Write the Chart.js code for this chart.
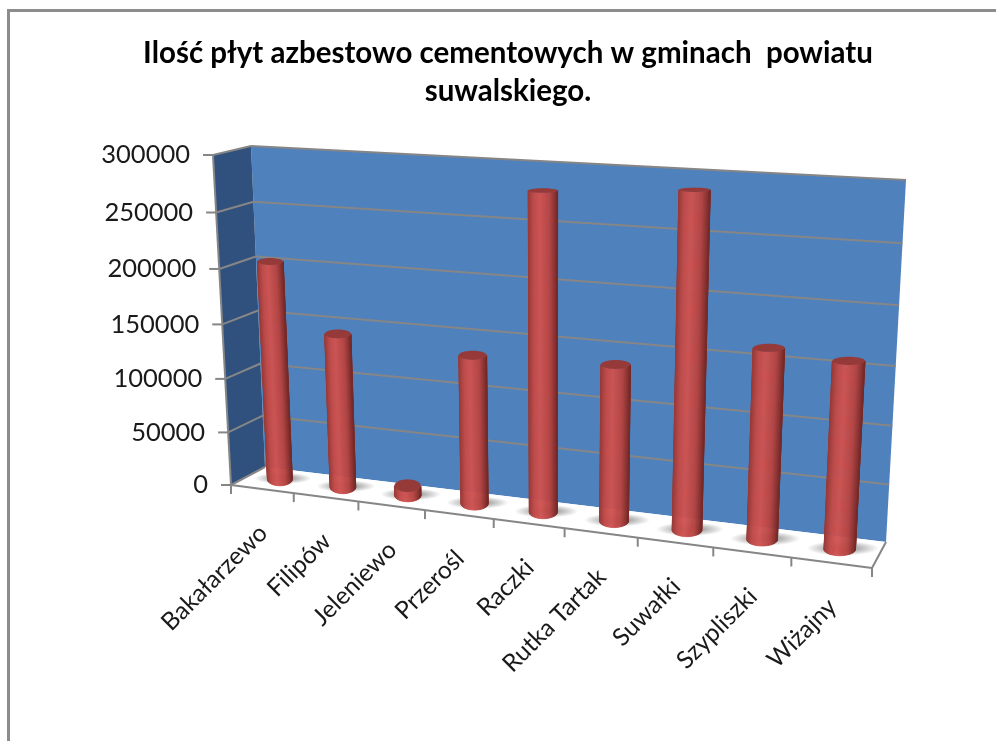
<!DOCTYPE html>
<html>
<head>
<meta charset="utf-8">
<title>Ilość płyt azbestowo cementowych</title>
<script src="https://cdn.jsdelivr.net/npm/chart.js@4"></script>
<style>
  html, body { margin: 0; padding: 0; background: #fff; }
  canvas { display: block; }
</style>
</head>
<body>
<canvas id="myChart" width="996" height="741"></canvas>
<script>
const categories = ["Bakałarzewo", "Filipów", "Jeleniewo", "Przerośl", "Raczki", "Rutka Tartak", "Suwałki", "Szypliszki", "Wiżajny"];
const plyty = [203000, 142500, 9000, 134500, 280000, 138000, 287500, 163500, 158500];
const yTicks = [0, 50000, 100000, 150000, 200000, 250000, 300000];
const titleLines = ["Ilość płyt azbestowo cementowych w gminach  powiatu", "suwalskiego."];

// corners of the 3d box on screen: bottom left, bottom right, top right, top left
const frontQuad = [[231, 485], [872, 568], [892, 190], [213, 155]];
const backQuad = [[265, 467], [886, 542], [906, 180], [251, 146]];
const barDepth = 0.53;

function squareToQuad(q) {
  const [x0, y0] = q[0], [x1, y1] = q[1], [x2, y2] = q[2], [x3, y3] = q[3];
  const dx1 = x1 - x2, dx2 = x3 - x2, sx = x0 - x1 + x2 - x3;
  const dy1 = y1 - y2, dy2 = y3 - y2, sy = y0 - y1 + y2 - y3;
  const den = dx1 * dy2 - dx2 * dy1;
  const g = (sx * dy2 - dx2 * sy) / den;
  const h = (dx1 * sy - sx * dy1) / den;
  return (u, v) => {
    const w = g * u + h * v + 1;
    return [
      ((x1 - x0 + g * x1) * u + (x3 - x0 + h * x3) * v + x0) / w,
      ((y1 - y0 + g * y1) * u + (y3 - y0 + h * y3) * v + y0) / w,
    ];
  };
}
const frontMap = squareToQuad(frontQuad);
const backMap = squareToQuad(backQuad);

// u along categories, v up the value axis, d from front (0) to back (1)
function project(u, v, d) {
  const f = frontMap(u, v), b = backMap(u, v);
  return [f[0] + (b[0] - f[0]) * d, f[1] + (b[1] - f[1]) * d];
}

function polygon(ctx, pts) {
  ctx.beginPath();
  pts.forEach((p, i) => (i ? ctx.lineTo(p[0], p[1]) : ctx.moveTo(p[0], p[1])));
  ctx.closePath();
}

function line(ctx, a, b) {
  ctx.beginPath();
  ctx.moveTo(a[0], a[1]);
  ctx.lineTo(b[0], b[1]);
  ctx.stroke();
}

function mix(a, b, t) {
  return a.map((c, i) => Math.round(c + (b[i] - c) * t));
}

// colour of the cylinder wall, s goes from left edge to right edge
function wallColor(s) {
  const stops = [[0, [150, 58, 56]], [0.2, [194, 76, 74]], [0.42, [207, 84, 82]], [0.75, [180, 68, 66]], [1, [118, 42, 40]]];
  for (let i = 1; i < stops.length; i++) {
    if (s <= stops[i][0]) {
      const c = mix(stops[i - 1][1], stops[i][1], (s - stops[i - 1][0]) / (stops[i][0] - stops[i - 1][0]));
      return `rgb(${c[0]},${c[1]},${c[2]})`;
    }
  }
  return "rgb(118,42,40)";
}

const box3d = {
  id: "box3d",
  beforeDraw(chart) {
    const ctx = chart.ctx;
    ctx.save();
    ctx.strokeStyle = "#8c8c8c";
    ctx.lineWidth = 3;
    ctx.beginPath();
    ctx.moveTo(8.5, 741);
    ctx.lineTo(8.5, 10.5);
    ctx.lineTo(996, 10.5);
    ctx.stroke();
    ctx.restore();
  },
  beforeDatasetsDraw(chart) {
    const ctx = chart.ctx;
    const xs = chart.scales.x, ys = chart.scales.y;
    const area = chart.chartArea;
    const toU = (px) => (px - area.left) / (area.right - area.left);
    const toV = (py) => (area.bottom - py) / (area.bottom - area.top);
    const vOf = (val) => toV(ys.getPixelForValue(val));
    const grey = "#868686";

    ctx.save();
    // back wall, side wall, floor
    polygon(ctx, backQuad);
    ctx.fillStyle = "#4f81bd";
    ctx.fill();
    polygon(ctx, [frontQuad[0], frontQuad[3], backQuad[3], backQuad[0]]);
    ctx.fillStyle = "#30517d";
    ctx.fill();
    polygon(ctx, [frontQuad[0], frontQuad[1], backQuad[1], backQuad[0]]);
    ctx.fillStyle = "#ffffff";
    ctx.fill();

    // gridlines and value ticks
    ctx.strokeStyle = grey;
    ctx.lineWidth = 2;
    ctx.font = "25.5px Lato";
    ctx.fillStyle = "#1a1a1a";
    ctx.textAlign = "right";
    ctx.textBaseline = "middle";
    yTicks.forEach((val) => {
      const v = vOf(val);
      const a = project(0, v, 0), b = project(0, v, 1), c = project(1, v, 1);
      if (val > 0) {
        line(ctx, a, b);
        line(ctx, b, c);
      }
      line(ctx, [a[0] - 10, a[1]], a);
      ctx.fillText(String(val), a[0] - 23, a[1]);
    });
    line(ctx, project(0, 0, 0), project(0, 1, 0));

    // floor edges
    line(ctx, frontQuad[0], backQuad[0]);
    line(ctx, frontQuad[1], backQuad[1]);
    line(ctx, frontQuad[0], frontQuad[1]);

    // category ticks and labels
    const n = categories.length;
    const half = (xs.getPixelForValue(1) - xs.getPixelForValue(0)) / 2;
    for (let i = 0; i <= n; i++) {
      const px = i < n ? xs.getPixelForValue(i) - half : xs.getPixelForValue(n - 1) + half;
      const p = project(toU(px), 0, 0);
      line(ctx, p, [p[0], p[1] + 9]);
    }
    ctx.font = "24.5px Lato";
    categories.forEach((name, i) => {
      const p = project(toU(xs.getPixelForValue(i)), 0, 0);
      ctx.save();
      ctx.translate(p[0] + 1, p[1] + 40);
      ctx.rotate(-Math.PI / 4);
      ctx.textAlign = "right";
      ctx.fillText(name, 0, 0);
      ctx.restore();
    });

    // cylinders, taken from the bar elements of the chart
    const steps = 48;
    const meta = chart.getDatasetMeta(0);
    meta.data.forEach((bar) => {
      const uc = toU(bar.x);
      const ru = (bar.width / 2) / (area.right - area.left);
      const vTop = toV(bar.y), vBase = toV(bar.base);
      // flat ellipse on screen around the bar axis, flatter the higher it sits
      const ring = (v, t) => {
        const c = project(uc, v, barDepth);
        const rx = (project(uc + ru, v, barDepth)[0] - project(uc - ru, v, barDepth)[0]) / 2;
        const ry = 6.5 - 4.5 * v;
        return [c[0] + rx * Math.cos(t), c[1] + ry * Math.sin(t)];
      };

      // floor shadow
      const c = project(uc, vBase, barDepth);
      const r = ring(vBase, 0)[0] - c[0];
      ctx.save();
      polygon(ctx, [frontQuad[0], frontQuad[1], backQuad[1], backQuad[0]]);
      ctx.clip();
      ctx.translate(c[0] + 3, c[1] - 1);
      ctx.scale(1, 0.2);
      const g = ctx.createRadialGradient(0, 0, r * 0.8, 0, 0, r * 2.3);
      g.addColorStop(0, "rgba(80,80,80,0.5)");
      g.addColorStop(1, "rgba(80,80,80,0)");
      ctx.fillStyle = g;
      ctx.beginPath();
      ctx.arc(0, 0, r * 2.3, 0, Math.PI * 2);
      ctx.fill();
      ctx.restore();

      // wall, one slice per step from left to right along the front
      for (let i = 0; i < steps; i++) {
        const t0 = Math.PI - (Math.PI * i) / steps;
        const t1 = Math.PI - (Math.PI * (i + 1)) / steps;
        const col = wallColor((Math.cos((t0 + t1) / 2) + 1) / 2);
        polygon(ctx, [ring(vBase, t0), ring(vBase, t1), ring(vTop, t1), ring(vTop, t0)]);
        ctx.fillStyle = col;
        ctx.strokeStyle = col;
        ctx.lineWidth = 0.6;
        ctx.fill();
        ctx.stroke();
      }
      // top cap
      const cap = [];
      for (let i = 0; i < 40; i++) cap.push(ring(vTop, (i * Math.PI) / 20));
      polygon(ctx, cap);
      ctx.fillStyle = "#953a39";
      ctx.fill();
    });
    ctx.restore();
  },
};

new Chart(document.getElementById("myChart"), {
  type: "bar",
  data: {
    labels: categories,
    datasets: [{ label: "Ilość płyt", data: plyty, backgroundColor: "rgba(0,0,0,0)", categoryPercentage: 0.4, barPercentage: 1 }],
  },
  options: {
    responsive: false,
    animation: false,
    layout: { padding: { left: 20 } },
    plugins: {
      legend: { display: false },
      tooltip: { enabled: false },
      title: {
        display: true,
        text: titleLines,
        color: "#000",
        font: { family: "Lato", size: 29.5, weight: "bold", lineHeight: 1.29 },
        padding: { top: 34, bottom: 20 },
      },
    },
    scales: {
      x: { display: false },
      y: { display: false, min: 0, max: 300000 },
    },
  },
  plugins: [box3d],
});
</script>
</body>
</html>
